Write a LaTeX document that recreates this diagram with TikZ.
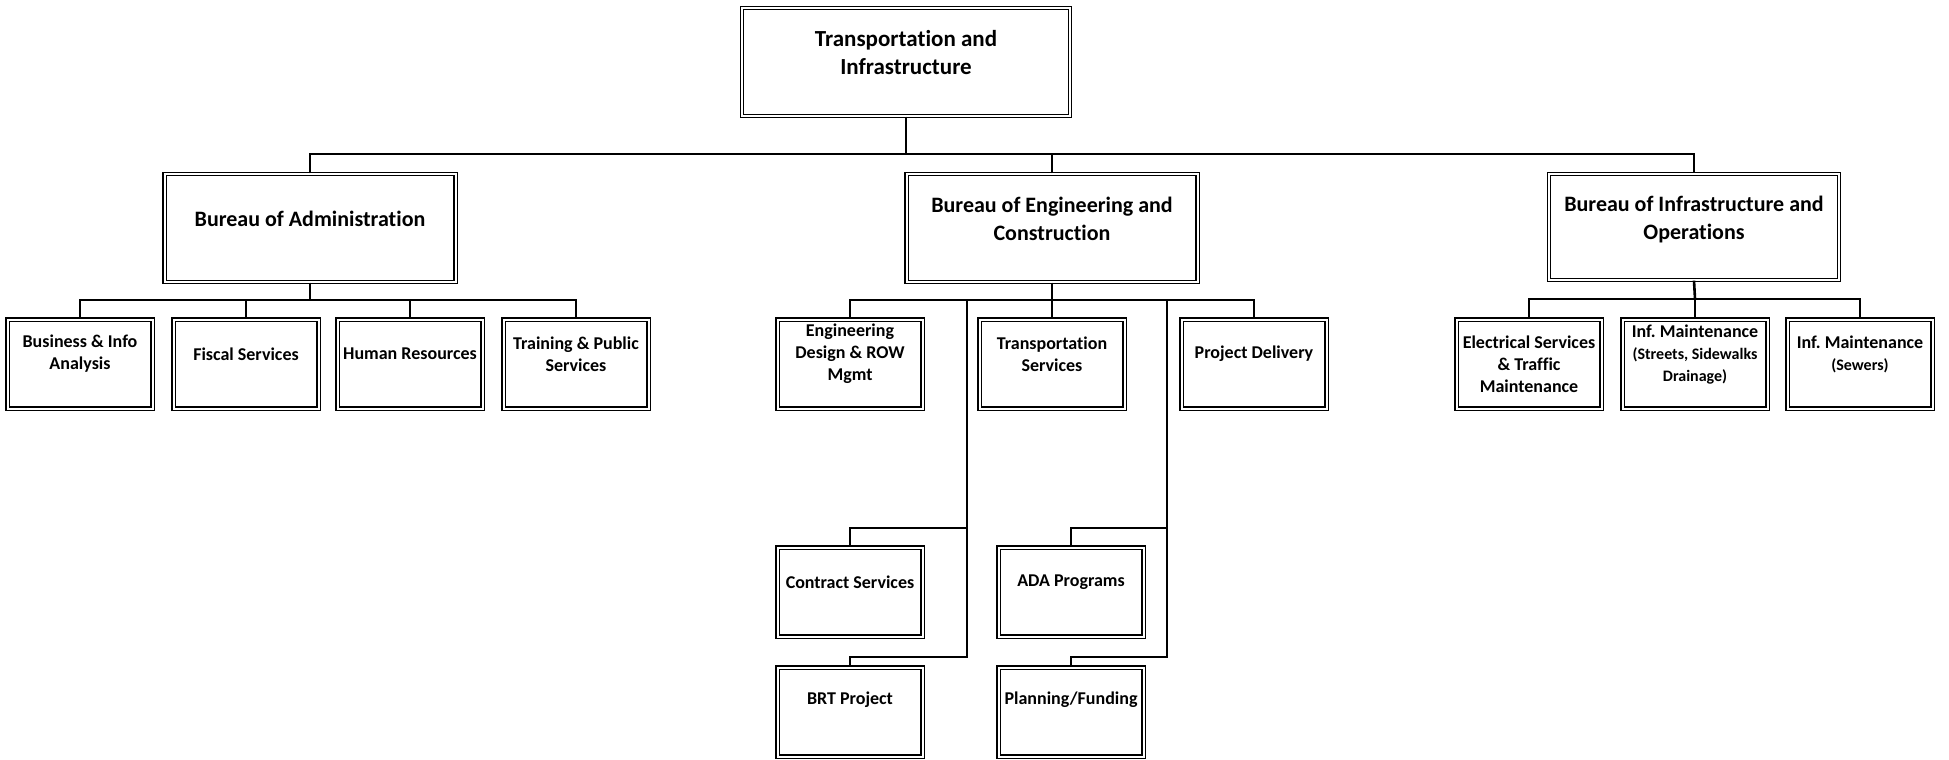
\documentclass[tikz,border=0pt]{standalone}
\usepackage{fontspec}
\setmainfont{Carlito}[Ligatures=NoCommon]
\frenchspacing
\definecolor{ln_color}{RGB}{0, 0, 0}
\newcommand{\smfnt}{\fontsize{16}{21}\selectfont}

\begin{document}
\begin{tikzpicture}[x=1pt, y=-1pt,
    box/.style={draw=ln_color, double, double distance=2pt, line width=1.2pt,
      minimum width=145pt, minimum height=89pt, inner sep=0pt},
    bureau/.style={box, minimum width=291pt, minimum height=108pt},
    txt/.style={align=center, inner sep=0pt, font=\bfseries\fontsize{18}{22}\selectfont},
    bigtxt/.style={txt, font=\bfseries\fontsize{22}{28}\selectfont},
    conn/.style={draw=ln_color, line width=2.6pt}]
  \useasboundingbox (0,0) rectangle (1949,760);

  \node[bureau, minimum width=328pt] (top) at (906,62) {};
  \node[bureau] (admin) at (310,228) {};
  \node[bureau] (eng) at (1052,228) {};
  \node[bureau, minimum width=290pt, minimum height=106pt] (infra) at (1694,227) {};

  \node[box] (biz) at (80,364) {};
  \node[box] (fisc) at (246,364) {};
  \node[box] (hum) at (410,364) {};
  \node[box] (train) at (576,364) {};
  \node[box] (design) at (850,364) {};
  \node[box] (transp) at (1052,364) {};
  \node[box] (projdel) at (1254,364) {};
  \node[box] (contract) at (850,592) {};
  \node[box] (brt) at (850,712) {};
  \node[box] (ada) at (1071,592) {};
  \node[box] (plan) at (1071,712) {};
  \node[box] (elec) at (1529,364) {};
  \node[box] (inf1) at (1695,364) {};
  \node[box] (inf2) at (1860,364) {};

  \node[bigtxt, font=\bfseries\fontsize{23}{28}\selectfont] (top-t) at ([yshift=9pt]top.center) {Transportation and\\Infrastructure};
  \node[bigtxt] (admin-t) at ([yshift=9pt]admin.center) {Bureau of Administration};
  \node[bigtxt] (eng-t) at ([yshift=9pt]eng.center) {Bureau of Engineering and\\Construction};
  \node[bigtxt] (infra-t) at ([yshift=7pt]infra.center) {Bureau of Infrastructure and\\Operations};
  \node[txt] (biz-t) at ([yshift=10pt]biz.center) {Business \& Info\\Analysis};
  \node[txt] (fisc-t) at ([yshift=10pt]fisc.center) {Fiscal Services};
  \node[txt] (hum-t) at ([yshift=10pt]hum.center) {Human Resources};
  \node[txt] (train-t) at ([yshift=10pt]train.center) {Training \& Public\\Services};
  \node[txt] (design-t) at ([yshift=10pt]design.center) {Engineering\\Design \& ROW\\Mgmt};
  \node[txt] (transp-t) at ([yshift=10pt]transp.center) {Transportation\\Services};
  \node[txt] (projdel-t) at ([yshift=10pt]projdel.center) {Project Delivery};
  \node[txt] (contract-t) at ([yshift=10pt]contract.center) {Contract Services};
  \node[txt] (brt-t) at ([yshift=12pt]brt.center) {BRT Project};
  \node[txt] (ada-t) at ([yshift=10pt]ada.center) {ADA Programs};
  \node[txt] (plan-t) at ([yshift=12pt]plan.center) {Planning/Funding};
  \node[txt] (elec-t) at (elec.center) {Electrical Services\\\&~Traffic\\Maintenance};
  \node[txt] (inf1-t) at ([yshift=9pt]inf1.center) {Inf. Maintenance\\\smfnt(Streets, Sidewalks\\\smfnt Drainage)};
  \node[txt] (inf2-t) at ([yshift=10pt]inf2.center) {Inf. Maintenance\\\smfnt(Sewers)};

  \coordinate (tbus) at (906,154);
  \coordinate (abus) at (310,300);
  \coordinate (ebus) at (1052,300);
  \coordinate (ibus) at (1695,299);
  \coordinate (ltrunk) at (967,300);
  \coordinate (rtrunk) at (1167,300);

  \draw[conn] (top.south) -- (tbus);
  \draw[conn] (admin.north) |- (tbus) -| (infra.north);
  \draw[conn] (eng.north) -- (eng.north |- tbus);

  \draw[conn] (admin.south) -- (abus);
  \draw[conn] (biz.north) |- (abus) -| (train.north);
  \draw[conn] (fisc.north) -- (fisc.north |- abus);
  \draw[conn] (hum.north) -- (hum.north |- abus);

  \draw[conn] (eng.south) -- (ebus);
  \draw[conn] (design.north) |- (ebus) -| (projdel.north);
  \draw[conn] (transp.north) -- (ebus);
  \draw[conn] (ltrunk) |- ([yshift=19pt]contract.north) -- (contract.north);
  \draw[conn] (ltrunk) |- ([yshift=10pt]brt.north) -- (brt.north);
  \draw[conn] (rtrunk) |- ([yshift=19pt]ada.north) -- (ada.north);
  \draw[conn] (rtrunk) |- ([yshift=10pt]plan.north) -- (plan.north);

  \draw[conn] (infra.south) -- (ibus);
  \draw[conn] (elec.north) |- (ibus) -| (inf2.north);
  \draw[conn] (inf1.north) -- (ibus);
\end{tikzpicture}
\end{document}
